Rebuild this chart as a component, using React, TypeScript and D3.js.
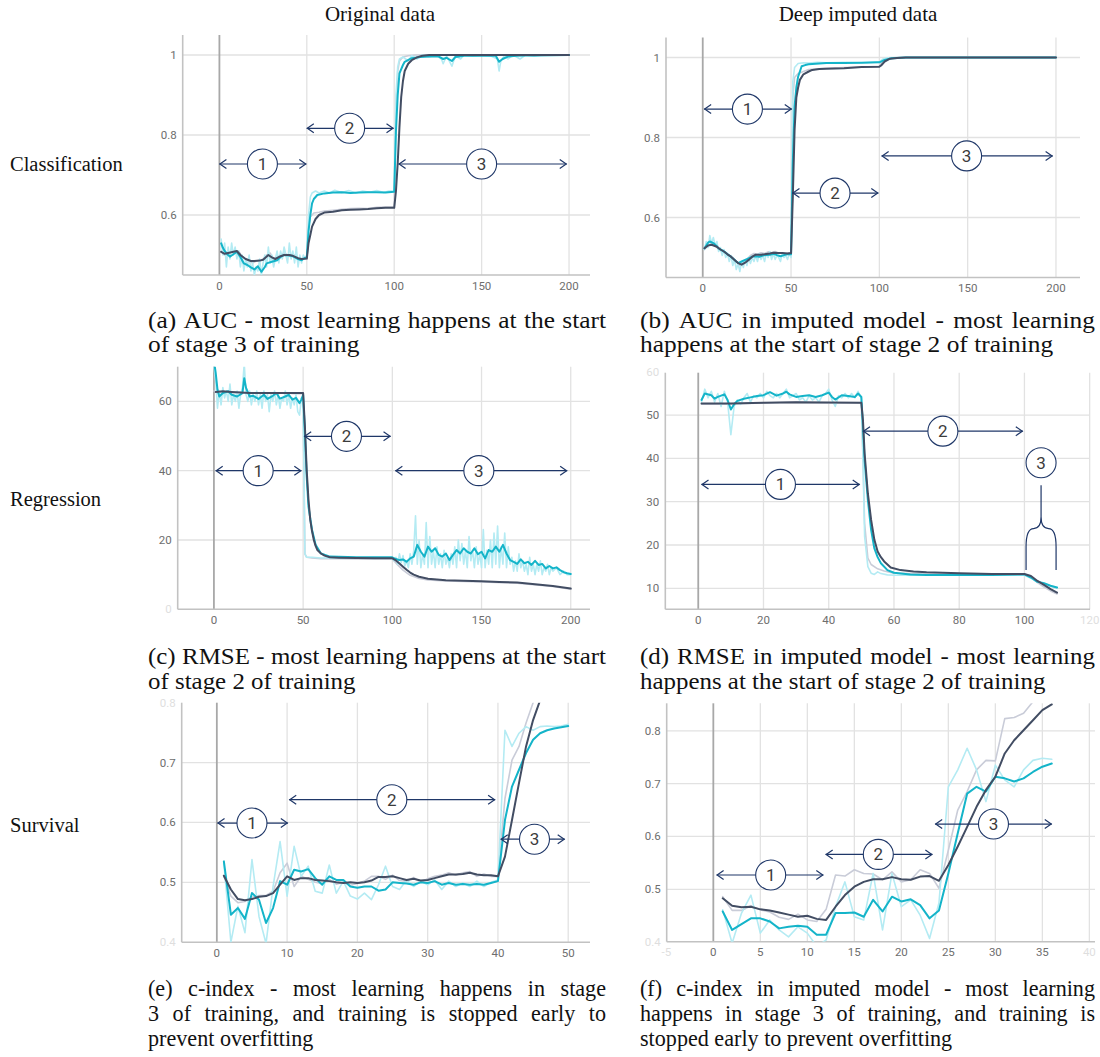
import * as d3 from 'd3'

type Pt = [number, number]

// ---------- (a) AUC, original data ----------
const aucOrigGrayRaw: Pt[] = [[1,0.51],[3,0.5],[5,0.5],[7,0.51],[9,0.505],[11,0.51],[13,0.495],[15,0.49],[17,0.485],[19,0.48],[21,0.485],[23,0.485],[25,0.49],[27,0.5],[29,0.505],[31,0.49],[33,0.495],[35,0.5],[37,0.505],[39,0.5],[41,0.495],[43,0.5],[45,0.49],[47,0.49],[49,0.49],[50,0.49],[51,0.57],[52,0.595],[54,0.605],[57,0.607],[60,0.61],[65,0.612],[70,0.614],[75,0.616],[80,0.617],[85,0.616],[90,0.619],[95,0.62],[100,0.62],[101,0.85],[102,0.96],[103,0.985],[105,0.995],[108,0.998],[112,1],[200,1]]
const aucOrigCyanRaw: Pt[] = [[1,0.54],[2,0.5],[3,0.53],[4,0.47],[5,0.52],[6,0.49],[7,0.53],[8,0.5],[9,0.52],[10,0.49],[11,0.51],[12,0.47],[13,0.5],[14,0.46],[15,0.49],[16,0.47],[17,0.5],[18,0.46],[19,0.48],[20,0.45],[21,0.47],[22,0.46],[23,0.49],[24,0.45],[25,0.48],[26,0.5],[27,0.47],[28,0.52],[29,0.48],[30,0.5],[31,0.47],[32,0.49],[33,0.51],[34,0.48],[35,0.51],[36,0.49],[37,0.52],[38,0.5],[39,0.48],[40,0.53],[41,0.49],[42,0.51],[43,0.48],[44,0.52],[45,0.47],[46,0.5],[47,0.48],[48,0.5],[49,0.49],[50,0.5],[51,0.6],[52,0.645],[53,0.655],[55,0.66],[57,0.655],[60,0.66],[63,0.655],[66,0.662],[70,0.656],[74,0.661],[78,0.655],[82,0.66],[86,0.657],[90,0.661],[94,0.656],[97,0.66],[100,0.66],[101,0.9],[102,0.97],[103,0.99],[105,0.995],[108,0.985],[110,0.998],[113,0.99],[116,1],[120,0.995],[124,1],[127,0.99],[128,0.978],[130,0.998],[133,0.972],[135,0.998],[138,0.99],[140,1],[145,0.997],[150,1],[155,0.998],[159,0.99],[160,0.96],[161,0.985],[163,0.998],[165,0.99],[168,1],[172,0.99],[175,1],[180,0.997],[185,1],[200,1]]
const aucOrigCyan: Pt[] = [[1,0.529],[2,0.518],[3,0.51],[5,0.5],[6,0.496],[8,0.502],[10,0.508],[12,0.495],[14,0.479],[16,0.475],[18,0.469],[20,0.464],[22,0.472],[24,0.458],[26,0.47],[27,0.479],[30,0.483],[33,0.487],[35,0.495],[37,0.5],[40,0.499],[42,0.497],[45,0.49],[47,0.487],[49,0.493],[50,0.494],[51,0.56],[52,0.6],[53,0.629],[54,0.64],[56,0.65],[60,0.654],[65,0.656],[70,0.657],[75,0.655],[80,0.656],[85,0.657],[90,0.657],[95,0.656],[100,0.658],[101,0.81],[102,0.9],[103,0.954],[105,0.975],[106,0.983],[110,0.992],[115,0.995],[120,0.996],[125,0.997],[128,0.99],[130,0.993],[133,0.985],[135,0.995],[140,0.998],[150,0.998],[158,0.999],[160,0.983],[162,0.99],[165,0.996],[170,0.998],[175,0.999],[180,0.999],[200,1]]
const aucOrigDark: Pt[] = [[1,0.508],[3,0.503],[5,0.505],[8,0.508],[10,0.51],[12,0.5],[15,0.49],[18,0.485],[20,0.485],[23,0.486],[25,0.488],[28,0.5],[30,0.494],[32,0.49],[35,0.497],[37,0.5],[40,0.5],[42,0.498],[45,0.492],[47,0.49],[50,0.491],[51,0.53],[52,0.55],[53,0.571],[55,0.59],[57,0.6],[60,0.606],[65,0.608],[70,0.612],[75,0.613],[80,0.614],[85,0.615],[90,0.617],[95,0.618],[100,0.618],[101,0.66],[102,0.73],[103,0.82],[104,0.895],[105,0.935],[106,0.96],[108,0.978],[110,0.987],[113,0.994],[116,0.998],[120,1],[200,1]]

// ---------- (b) AUC, imputed ----------
const aucImpGrayRaw: Pt[] = [[1,0.52],[3,0.53],[5,0.535],[7,0.53],[9,0.52],[11,0.515],[13,0.51],[15,0.505],[17,0.5],[19,0.49],[21,0.48],[23,0.485],[25,0.495],[27,0.505],[29,0.51],[31,0.508],[33,0.512],[35,0.51],[37,0.514],[39,0.512],[41,0.515],[43,0.51],[45,0.512],[47,0.51],[49,0.512],[50,0.512],[51,0.9],[52,0.95],[54,0.96],[57,0.965],[60,0.97],[70,0.973],[80,0.975],[90,0.976],[100,0.978],[102,0.993],[105,0.998],[110,1],[200,1]]
const aucImpCyanRaw: Pt[] = [[1,0.52],[2,0.54],[3,0.525],[4,0.555],[5,0.535],[6,0.55],[7,0.53],[8,0.54],[9,0.515],[10,0.525],[11,0.505],[12,0.52],[13,0.5],[14,0.51],[15,0.49],[16,0.505],[17,0.48],[18,0.495],[19,0.47],[20,0.485],[21,0.465],[22,0.49],[23,0.475],[24,0.495],[25,0.48],[26,0.5],[27,0.485],[28,0.5],[29,0.49],[30,0.505],[31,0.49],[32,0.51],[33,0.495],[34,0.505],[35,0.49],[36,0.51],[37,0.5],[38,0.515],[39,0.495],[40,0.51],[41,0.495],[42,0.505],[43,0.5],[44,0.49],[45,0.51],[46,0.5],[47,0.505],[48,0.495],[49,0.51],[50,0.5],[51,0.94],[52,0.975],[54,0.985],[57,0.987],[60,0.986],[65,0.988],[70,0.987],[80,0.988],[90,0.987],[100,0.989],[102,0.996],[105,0.999],[110,1],[200,1]]
const aucImpCyan: Pt[] = [[1,0.523],[3,0.537],[4,0.54],[6,0.536],[8,0.528],[9,0.523],[11,0.518],[13,0.512],[15,0.505],[17,0.498],[19,0.49],[20,0.486],[22,0.49],[25,0.496],[28,0.502],[30,0.503],[32,0.502],[34,0.505],[36,0.506],[38,0.507],[40,0.509],[42,0.506],[44,0.503],[46,0.506],[48,0.508],[50,0.508],[51,0.736],[52,0.878],[53,0.925],[54,0.952],[56,0.978],[58,0.981],[60,0.983],[70,0.986],[80,0.986],[90,0.987],[100,0.988],[103,0.994],[107,0.998],[110,0.999],[115,1],[200,1]]
const aucImpDark: Pt[] = [[1,0.523],[3,0.53],[5,0.532],[8,0.527],[10,0.52],[12,0.515],[14,0.508],[16,0.502],[18,0.494],[20,0.486],[22,0.482],[24,0.487],[26,0.494],[28,0.502],[30,0.507],[33,0.507],[35,0.508],[38,0.51],[40,0.512],[43,0.511],[45,0.511],[48,0.51],[50,0.511],[51,0.652],[52,0.819],[53,0.9],[54,0.925],[55,0.944],[57,0.958],[60,0.965],[62,0.969],[66,0.971],[70,0.972],[80,0.973],[90,0.976],[100,0.977],[101,0.98],[103,0.99],[106,0.997],[110,0.999],[115,1],[200,1]]

// ---------- (c) RMSE, original data ----------
const regOrigGrayRaw: Pt[] = [[0,63],[2,62.5],[5,62.8],[10,62.5],[15,62.6],[20,62.3],[25,62.5],[30,62.4],[35,62.3],[40,62.4],[45,62.2],[50,62.3],[51,16],[52,15],[55,14.8],[60,14.6],[70,14.6],[80,14.5],[90,14.6],[100,14.5],[103,12.8],[106,11.3],[110,9.8],[115,8.9],[120,8.5],[130,8.2],[150,7.9],[170,7.5],[190,6.6],[200,5.8]]
const regOrigCyanRaw: Pt[] = [[0,70],[1,66],[2,58],[3,63],[4,59],[5,64],[6,61],[7,63],[8,60],[9,65],[10,59],[11,62],[12,60],[13,63],[14,58],[15,62],[16,64],[17,71],[18,62],[19,60],[20,63],[21,59],[22,62],[23,60],[24,63],[25,59],[26,62],[27,58],[28,63],[29,60],[30,62],[31,57],[32,62],[33,60],[34,63],[35,59],[36,62],[37,58],[38,61],[39,60],[40,63],[41,59],[42,62],[43,58],[44,61],[45,59],[46,62],[47,57],[48,56],[49,61],[50,60],[51,16],[52,15],[55,15],[60,14.8],[70,14.9],[80,14.8],[90,14.9],[100,14.8],[101,14],[102,15],[103,13],[104,16],[105,13.5],[106,15.5],[107,12.5],[108,14],[109,12],[110,16],[111,13],[112,17],[113,27],[114,13],[115,20],[116,12],[117,16],[118,13],[119,25],[120,12],[121,21],[122,13],[123,17],[124,12],[125,18],[126,13],[127,16],[128,12],[129,17],[130,13],[131,15],[132,12],[133,16],[134,13],[135,18],[136,12],[137,20],[138,14],[139,19],[140,13],[141,17],[142,12],[143,21],[144,14],[145,17],[146,12],[147,18],[148,13],[149,16],[150,12],[151,23],[152,12],[153,17],[154,13],[155,20],[156,12],[157,22],[158,13],[159,24],[160,12],[161,18],[162,13],[163,22],[164,12],[165,18],[166,13],[167,15],[168,11],[169,14],[170,11],[171,16],[172,12],[173,14],[174,11],[175,13],[176,10],[177,15],[178,11],[179,13],[180,10],[181,13],[182,11],[183,14],[184,10],[185,12],[186,11],[187,13],[188,10],[189,12],[190,11],[192,12],[194,10],[196,11],[198,10],[200,10]]
const regOrigCyan: Pt[] = [[0.5,70],[1,68.2],[2,63.4],[3,61.4],[5,62.4],[8,62.9],[10,61.9],[13,61.4],[16,62.4],[17,66.7],[18,63.9],[20,61.4],[22,61.6],[25,60.7],[28,61.9],[30,60.7],[33,61.6],[35,62.4],[37,60.8],[40,61.4],[42,61.9],[44,60.5],[46,61],[48,59.5],[49,60.5],[50,61.9],[51,50.8],[52,38.3],[53,29.6],[55,22.9],[57,18.6],[60,16.1],[65,15.2],[80,15],[100,15],[102,14.5],[104,14.2],[106,14.4],[108,13.7],[110,14.7],[112,15.2],[114,18.6],[116,16.6],[118,15.2],[120,18.1],[122,16.6],[124,17.6],[126,15.7],[128,15.2],[130,16.1],[132,14.2],[134,15.7],[136,17.1],[138,16.1],[140,17.6],[142,16.6],[144,16.1],[146,17.6],[148,15.9],[150,16.6],[152,14.7],[154,17.1],[156,16.6],[158,18.1],[160,16.6],[162,18.6],[164,16.1],[166,14.2],[168,13.7],[170,13.1],[172,14.4],[174,13.3],[176,13.7],[178,12.8],[180,14],[182,12.8],[184,13.1],[186,11.8],[188,12.5],[190,11.8],[192,12.1],[194,11.3],[196,10.7],[198,10.4],[200,10.2]]
const regOrigDark: Pt[] = [[1,62.7],[5,62.9],[10,62.7],[20,62.4],[30,62.4],[40,62.4],[50,62.4],[51,52.8],[52,40.2],[53,31.6],[54,25.8],[55,22.5],[56,20],[57,18.3],[58,17.1],[60,16.1],[62,15.5],[65,15],[70,14.9],[80,14.8],[90,14.7],[100,14.7],[102,14.1],[104,13.2],[106,12.3],[108,11.4],[110,10.6],[112,10],[115,9.4],[120,8.8],[125,8.6],[130,8.4],[140,8.25],[150,8.1],[160,7.9],[170,7.7],[180,7.2],[190,6.7],[200,6]]

// ---------- (d) RMSE, imputed ----------
const regImpGrayRaw: Pt[] = [[1,52.5],[10,52.6],[20,52.8],[30,53],[40,52.8],[50,52.8],[50.5,40],[51,25],[52,17],[53,15.5],[55,14.5],[57,14],[60,13.5],[70,13.3],[80,13.2],[90,13.2],[100,13.2],[102,12.5],[104,11.3],[106,10.3],[108,9.4],[110,8.7]]
const regImpCyanRaw: Pt[] = [[1,53],[2,56],[3,54],[4,55.5],[5,53],[6,55],[7,52],[8,55.5],[9,53],[10,45.5],[11,52],[12,53.5],[13,52.5],[14,54],[15,55],[16,53],[17,54.5],[18,54],[19,55],[20,54],[21,55.5],[22,54.5],[23,54],[24,55],[25,54],[26,55],[27,56],[28,54],[29,54.5],[30,55],[31,53.5],[32,54],[33,53],[34,54.5],[35,53.5],[36,54],[37,53],[38,54.5],[39,55],[40,56],[41,53.5],[42,52],[43,54.5],[44,54],[45,55],[46,54],[47,55],[48,54],[49,55.5],[50,54],[50.5,40],[51,22],[52,15],[53,13.5],[54,13.2],[55,13.8],[56,13.4],[58,13.1],[60,13],[70,13],[80,13],[90,13],[100,13],[102,12.3],[104,11.5],[106,11],[108,10.5],[110,10]]
const regImpCyan: Pt[] = [[1,53.5],[2,55],[4,54.6],[5,53.8],[6,54.2],[8,54.8],[9,53.5],[10,51.3],[11,52.5],[12,53.3],[14,53.8],[16,54.1],[18,54.4],[20,54.6],[22,55.3],[24,54.5],[26,55],[27,55.4],[28,54.8],[30,54.2],[32,54.4],[34,54.6],[36,54.2],[38,54.6],[40,55.2],[41,54.2],[42,53.6],[44,54.6],[46,54.4],[48,54.2],[49,55],[50,54.2],[50.5,47.3],[51,39.6],[52,30.4],[53,23.5],[54,19.2],[55,17.2],[56,15.8],[58,14.2],[60,13.6],[65,13.2],[70,13.1],[80,13.1],[90,13.1],[100,13.2],[102,12.5],[104,11.5],[106,11.2],[108,10.6],[110,10.2]]
const regImpDark: Pt[] = [[1,52.7],[10,52.7],[20,52.85],[30,53],[40,52.9],[50,52.85],[50.5,48.8],[51,41.2],[52,31.9],[53,25.8],[54,21.2],[55,18.5],[56,17.2],[57,16.2],[59,14.8],[62,14.2],[66,13.9],[70,13.7],[80,13.5],[90,13.3],[100,13.3],[102,12.85],[104,11.7],[106,10.8],[108,9.8],[110,9]]

// ---------- (e) c-index, original data ----------
const survOrigGrayRaw: Pt[] = [[1,0.51],[2,0.477],[3,0.466],[4,0.468],[5,0.475],[6,0.478],[7,0.478],[8,0.485],[9,0.516],[10,0.532],[11,0.493],[12,0.51],[13,0.505],[14,0.5],[15,0.498],[16,0.505],[17,0.497],[18,0.5],[19,0.495],[20,0.498],[21,0.502],[22,0.51],[23,0.51],[24,0.505],[25,0.512],[26,0.503],[27,0.502],[28,0.508],[29,0.5],[30,0.506],[31,0.51],[32,0.512],[33,0.516],[34,0.512],[35,0.516],[36,0.518],[37,0.51],[38,0.514],[39,0.51],[40,0.51],[41,0.64],[42,0.704],[43,0.727],[44,0.766],[45,0.8],[46,0.84]]
const survOrigCyanRaw: Pt[] = [[1,0.532],[2,0.4],[3,0.46],[4,0.416],[5,0.538],[6,0.443],[7,0.398],[8,0.493],[9,0.568],[10,0.477],[11,0.56],[12,0.51],[13,0.527],[14,0.485],[15,0.482],[16,0.529],[17,0.482],[18,0.502],[19,0.477],[20,0.472],[21,0.482],[22,0.471],[23,0.496],[24,0.527],[25,0.493],[26,0.488],[27,0.504],[28,0.493],[29,0.502],[30,0.496],[31,0.504],[32,0.488],[33,0.502],[34,0.493],[35,0.499],[36,0.493],[37,0.502],[38,0.493],[39,0.5],[40,0.504],[41,0.754],[42,0.727],[43,0.749],[44,0.76],[45,0.754],[46,0.76],[47,0.761],[48,0.76],[49,0.761],[50,0.764]]
const survOrigCyan: Pt[] = [[1,0.535],[2,0.446],[3,0.457],[4,0.439],[5,0.482],[6,0.471],[7,0.432],[8,0.457],[9,0.502],[10,0.496],[11,0.521],[12,0.518],[13,0.522],[14,0.507],[15,0.496],[16,0.51],[17,0.504],[18,0.504],[19,0.493],[20,0.491],[21,0.493],[22,0.493],[23,0.486],[24,0.488],[25,0.5],[26,0.499],[27,0.498],[28,0.496],[29,0.5],[30,0.499],[31,0.502],[32,0.496],[33,0.499],[34,0.496],[35,0.497],[36,0.496],[37,0.497],[38,0.496],[39,0.499],[40,0.502],[41,0.604],[42,0.66],[43,0.688],[44,0.716],[45,0.738],[46,0.749],[47,0.754],[48,0.757],[49,0.759],[50,0.761]]
const survOrigDark: Pt[] = [[1,0.511],[2,0.488],[3,0.472],[4,0.47],[5,0.472],[6,0.476],[7,0.477],[8,0.482],[9,0.496],[10,0.51],[11,0.504],[12,0.507],[13,0.507],[14,0.504],[15,0.503],[16,0.502],[17,0.5],[18,0.499],[19,0.5],[20,0.499],[21,0.5],[22,0.503],[23,0.509],[24,0.509],[25,0.51],[26,0.507],[27,0.504],[28,0.506],[29,0.503],[30,0.504],[31,0.507],[32,0.51],[33,0.513],[34,0.513],[35,0.514],[36,0.516],[37,0.513],[38,0.512],[39,0.512],[40,0.51],[41,0.543],[42,0.604],[43,0.666],[44,0.727],[45,0.771],[46,0.804],[47,0.84]]

// ---------- (f) c-index, imputed ----------
const survImpGrayRaw: Pt[] = [[1,0.486],[2,0.46],[3,0.46],[4,0.469],[5,0.461],[6,0.457],[7,0.447],[8,0.443],[9,0.453],[10,0.442],[11,0.439],[12,0.462],[13,0.527],[14,0.525],[15,0.537],[16,0.53],[17,0.529],[18,0.518],[19,0.533],[20,0.514],[21,0.518],[22,0.537],[23,0.53],[24,0.502],[25,0.574],[26,0.65],[27,0.685],[28,0.726],[29,0.744],[30,0.743],[31,0.823],[32,0.825],[33,0.833],[34,0.855],[35,0.87],[36,0.88]]
const survImpCyanRaw: Pt[] = [[1,0.461],[2,0.398],[3,0.455],[4,0.489],[5,0.417],[6,0.442],[7,0.423],[8,0.41],[9,0.429],[10,0.417],[11,0.392],[12,0.404],[13,0.467],[14,0.514],[15,0.448],[16,0.442],[17,0.53],[18,0.423],[19,0.53],[20,0.467],[21,0.48],[22,0.451],[23,0.407],[24,0.474],[25,0.694],[26,0.726],[27,0.767],[28,0.726],[29,0.666],[30,0.735],[31,0.707],[32,0.694],[33,0.726],[34,0.744],[35,0.748],[36,0.746]]
const survImpCyan: Pt[] = [[1,0.458],[2,0.423],[3,0.434],[4,0.445],[5,0.445],[6,0.439],[7,0.426],[8,0.429],[9,0.431],[10,0.429],[11,0.414],[12,0.414],[13,0.455],[14,0.455],[15,0.456],[16,0.448],[17,0.48],[18,0.458],[19,0.486],[20,0.477],[21,0.481],[22,0.47],[23,0.445],[24,0.46],[25,0.53],[26,0.606],[27,0.681],[28,0.694],[29,0.685],[30,0.713],[31,0.71],[32,0.704],[33,0.71],[34,0.722],[35,0.732],[36,0.738]]
const survImpDark: Pt[] = [[1,0.483],[2,0.469],[3,0.466],[4,0.467],[5,0.462],[6,0.46],[7,0.456],[8,0.452],[9,0.448],[10,0.45],[11,0.444],[12,0.442],[13,0.467],[14,0.489],[15,0.505],[16,0.514],[17,0.519],[18,0.519],[19,0.523],[20,0.519],[21,0.518],[22,0.524],[23,0.525],[24,0.516],[25,0.546],[26,0.581],[27,0.618],[28,0.656],[29,0.688],[30,0.713],[31,0.757],[32,0.782],[33,0.801],[34,0.82],[35,0.839],[36,0.85]]

// ticks
const ticks200 = [0, 50, 100, 150, 200]
const ticksAuc = [0.6, 0.8, 1]
const ticksRegOrig = [20, 40, 60]
const ticksRegImpX = [0, 20, 40, 60, 80, 100]
const ticksRegImpY = [10, 20, 30, 40, 50]
const ticksSurvOrigX = [0, 10, 20, 30, 40, 50]
const ticksSurvOrigY = [0.5, 0.6, 0.7]
const ticksSurvImpX = [0, 5, 10, 15, 20, 25, 30, 35]
const ticksSurvImpY = [0.5, 0.6, 0.7, 0.8]

// stage arrows: [from step, to step, level, circle step, label]
type Arrow = [number, number, number, number, string]
const arrowsA: Arrow[] = [[0, 49.7, 0.7275, 24.6, '1'], [50, 99.6, 0.8167, 74.5, '2'], [102.5, 198.7, 0.7275, 150, '3']]
const arrowsB: Arrow[] = [[0.8, 50.4, 0.871, 25.3, '1'], [50.8, 99.4, 0.661, 74.9, '2'], [101.3, 198.1, 0.754, 149.4, '3']]
const arrowsC: Arrow[] = [[1, 49, 40, 24.8, '1'], [50.6, 99, 49.9, 74.3, '2'], [101.7, 198, 40, 148.5, '3']]
const arrowsD: Arrow[] = [[1, 49.5, 34, 25.2, '1'], [50.5, 99.5, 46.3, 75, '2']]
const arrowsE: Arrow[] = [[0.1, 10.1, 0.599, 5, '1'], [10.3, 39.6, 0.638, 24.9, '2'], [40.4, 49.5, 0.572, 45.2, '3']]
const arrowsF: Arrow[] = [[0.35, 11.7, 0.527, 6.1, '1'], [11.95, 23.3, 0.566, 17.55, '2'], [23.6, 36, 0.6235, 29.8, '3']]

const headings = ['Original data', 'Deep imputed data']
const rowLabels = ['Classification', 'Regression', 'Survival']
const captionA = ['(a) AUC - most learning happens at the start', 'of stage 3 of training']
const captionB = ['(b) AUC in imputed model - most learning', 'happens at the start of stage 2 of training']
const captionC = ['(c) RMSE - most learning happens at the start', 'of stage 2 of training']
const captionD = ['(d) RMSE in imputed model - most learning', 'happens at the start of stage 2 of training']
const captionE = ['(e) c-index - most learning happens in stage', '3 of training, and training is stopped early to', 'prevent overfitting']
const captionF = ['(f) c-index in imputed model - most learning', 'happens in stage 3 of training, and training is', 'stopped early to prevent overfitting']

const C = {
  cyan: '#14b4c9',
  cyanRaw: '#b4ebf3',
  dark: '#424d63',
  grayRaw: '#c9ccd8',
  grid: '#e2e2e2',
  zero: '#a8a8a8',
  axis: '#c2c2c2',
  tick: '#6e6e6e',
  note: '#1f3768',
}
const SERIF = '"Liberation Serif", "Times New Roman", serif'
const SANS = 'Roboto, "Liberation Sans", sans-serif'
const CAPTION_SIZE = 23.3

interface PanelSpec {
  id: string
  xDomain: [number, number]
  xRange: [number, number]
  yDomain: [number, number]
  yRange: [number, number]
  xTicks: number[]
  yTicks: number[]
  fadedX: number[]
  fadedY: number[]
  grayRaw: Pt[]
  cyanRaw: Pt[]
  cyan: Pt[]
  dark: Pt[]
  arrows: Arrow[]
  circles?: [number, number, string][]
  brace?: { x1: number; x2: number; bottom: number; knee: number; shoulder: number; neck: number; tip: number }
}

const panels: PanelSpec[] = [
  { id: 'a', xDomain: [-21, 212], xRange: [182.7, 590], yDomain: [0.45, 1.05], yRange: [275, 35], xTicks: ticks200, yTicks: ticksAuc, fadedX: [], fadedY: [],
    grayRaw: aucOrigGrayRaw, cyanRaw: aucOrigCyanRaw, cyan: aucOrigCyan, dark: aucOrigDark, arrows: arrowsA },
  { id: 'b', xDomain: [-20.8, 213.6], xRange: [666, 1080], yDomain: [0.45, 1.05], yRange: [277.5, 37.5], xTicks: ticks200, yTicks: ticksAuc, fadedX: [], fadedY: [],
    grayRaw: aucImpGrayRaw, cyanRaw: aucImpCyanRaw, cyan: aucImpCyan, dark: aucImpDark, arrows: arrowsB },
  { id: 'c', xDomain: [-20.3, 210.8], xRange: [177.7, 590], yDomain: [0, 70], yRange: [609.3, 366.7], xTicks: ticks200, yTicks: ticksRegOrig, fadedX: [], fadedY: [0],
    grayRaw: regOrigGrayRaw, cyanRaw: regOrigCyanRaw, cyan: regOrigCyan, dark: regOrigDark, arrows: arrowsC },
  { id: 'd', xDomain: [-10.1, 120.1], xRange: [665.3, 1090], yDomain: [5.15, 59.8], yRange: [609.3, 372.7], xTicks: ticksRegImpX, yTicks: ticksRegImpY, fadedX: [120], fadedY: [60],
    grayRaw: regImpGrayRaw, cyanRaw: regImpCyanRaw, cyan: regImpCyan, dark: regImpDark, arrows: arrowsD,
    circles: [[105.1, 39, '3']],
    brace: { x1: 100.5, x2: 109.7, bottom: 14.2, knee: 19.6, shoulder: 23.8, neck: 26.5, tip: 33.8 } },
  { id: 'e', xDomain: [-5, 53.1], xRange: [181.7, 590], yDomain: [0.4, 0.8], yRange: [942.2, 702.7], xTicks: ticksSurvOrigX, yTicks: ticksSurvOrigY, fadedX: [], fadedY: [0.4, 0.8],
    grayRaw: survOrigGrayRaw, cyanRaw: survOrigCyanRaw, cyan: survOrigCyan, dark: survOrigDark, arrows: arrowsE },
  { id: 'f', xDomain: [-4.96, 40.6], xRange: [666.7, 1095], yDomain: [0.4008, 0.852], yRange: [941.7, 703.3], xTicks: ticksSurvImpX, yTicks: ticksSurvImpY, fadedX: [-5, 40], fadedY: [0.4],
    grayRaw: survImpGrayRaw, cyanRaw: survImpCyanRaw, cyan: survImpCyan, dark: survImpDark, arrows: arrowsF },
]

function Badge({ cx, cy, label }: { cx: number; cy: number; label: string }) {
  return (
    <g>
      <circle cx={cx} cy={cy} r={15} fill="#fff" stroke={C.note} strokeWidth={1.1} />
      <text x={cx} y={cy + 6} textAnchor="middle" fontFamily={SANS} fontSize={17} fill="#3c3c3c">
        {label}
      </text>
    </g>
  )
}

function Panel({ spec }: { spec: PanelSpec }) {
  const x = d3.scaleLinear().domain(spec.xDomain).range(spec.xRange)
  const y = d3.scaleLinear().domain(spec.yDomain).range(spec.yRange)
  const line = d3.line<Pt>().x((d) => x(d[0])).y((d) => y(d[1]))
  const [left, right] = spec.xRange
  const [bottom, top] = spec.yRange
  const clipId = `clip-${spec.id}`

  let bracePath = ''
  if (spec.brace) {
    const b = spec.brace
    const L = x(b.x1)
    const R = x(b.x2)
    const M = (L + R) / 2
    bracePath =
      `M${L},${y(b.bottom)} L${L},${y(b.knee)} Q${L},${y(b.shoulder)} ${(L + M) / 2},${y(b.shoulder)} ` +
      `Q${M},${y(b.shoulder)} ${M},${y(b.neck)} L${M},${y(b.tip)} ` +
      `M${R},${y(b.bottom)} L${R},${y(b.knee)} Q${R},${y(b.shoulder)} ${(R + M) / 2},${y(b.shoulder)} ` +
      `Q${M},${y(b.shoulder)} ${M},${y(b.neck)}`
  }

  return (
    <g>
      <defs>
        <clipPath id={clipId}>
          <rect x={left} y={top} width={right - left} height={bottom - top} />
        </clipPath>
      </defs>
      {/* grid */}
      {spec.yTicks.map((t) => (
        <line key={`gy${t}`} x1={left} x2={right} y1={y(t)} y2={y(t)} stroke={C.grid} strokeWidth={1.3} />
      ))}
      {spec.xTicks.concat(spec.fadedX.filter((t) => x(t) > left + 2 && x(t) < right)).map((t) => (
        <line key={`gx${t}`} x1={x(t)} x2={x(t)} y1={top} y2={bottom} stroke={t === 0 ? C.zero : C.grid} strokeWidth={t === 0 ? 1.8 : 1.3} />
      ))}
      <line x1={left} x2={left} y1={top} y2={bottom} stroke={C.axis} strokeWidth={1.6} />
      <line x1={left} x2={right} y1={bottom} y2={bottom} stroke={C.axis} strokeWidth={1.6} />

      {/* tick labels */}
      {spec.yTicks.map((t) => (
        <text key={`ly${t}`} x={left - 6} y={y(t) + 4} textAnchor="end" fontFamily={SANS} fontSize={11.5} fill={C.tick}>
          {String(t)}
        </text>
      ))}
      {spec.fadedY.map((t) => (
        <text key={`fy${t}`} x={left - 6} y={y(t) + 4} textAnchor="end" fontFamily={SANS} fontSize={11.5} fill={C.tick} opacity={0.22}>
          {String(t)}
        </text>
      ))}
      {spec.xTicks.map((t) => (
        <text key={`lx${t}`} x={x(t)} y={bottom + 14.5} textAnchor="middle" fontFamily={SANS} fontSize={11.5} fill={C.tick}>
          {String(t)}
        </text>
      ))}
      {spec.fadedX.map((t) => (
        <text key={`fx${t}`} x={x(t)} y={bottom + 14.5} textAnchor="middle" fontFamily={SANS} fontSize={11.5} fill={C.tick} opacity={0.22}>
          {String(t)}
        </text>
      ))}

      {/* series */}
      <g clipPath={`url(#${clipId})`} fill="none" strokeLinejoin="round" strokeLinecap="round">
        <path d={line(spec.grayRaw) ?? ''} stroke={C.grayRaw} strokeWidth={1.6} />
        <path d={line(spec.cyanRaw) ?? ''} stroke={C.cyanRaw} strokeWidth={1.6} />
        <path d={line(spec.cyan) ?? ''} stroke={C.cyan} strokeWidth={2} />
        <path d={line(spec.dark) ?? ''} stroke={C.dark} strokeWidth={2} />
      </g>

      {/* stage annotations */}
      {spec.arrows.map(([a, b, lv, c, label]) => {
        const x1 = x(a)
        const x2 = x(b)
        const yy = y(lv)
        return (
          <g key={label}>
            <line x1={x1} x2={x2} y1={yy} y2={yy} stroke={C.note} strokeWidth={1.2} />
            <path d={`M${x1 + 7},${yy - 4.5} L${x1 + 0.5},${yy} L${x1 + 7},${yy + 4.5}`} fill="none" stroke={C.note} strokeWidth={1.2} />
            <path d={`M${x2 - 7},${yy - 4.5} L${x2 - 0.5},${yy} L${x2 - 7},${yy + 4.5}`} fill="none" stroke={C.note} strokeWidth={1.2} />
            <Badge cx={x(c)} cy={yy} label={label} />
          </g>
        )
      })}
      {bracePath && <path d={bracePath} fill="none" stroke={C.note} strokeWidth={1.2} />}
      {(spec.circles ?? []).map(([cx, cy, label]) => (
        <Badge key={`c${label}`} cx={x(cx)} cy={y(cy)} label={label} />
      ))}
    </g>
  )
}

// caption placement: x, first baseline, line gap, width of justified lines, horizontal stretch
const captionLayout: { lines: string[]; x: number; y: number; gap: number; justify: number; sx: number }[] = [
  { lines: captionA, x: 148, y: 328, gap: 24, justify: 458, sx: 1.09 },
  { lines: captionB, x: 640, y: 328, gap: 24, justify: 455, sx: 1.09 },
  { lines: captionC, x: 148, y: 664, gap: 25, justify: 458, sx: 1.07 },
  { lines: captionD, x: 640, y: 664, gap: 25, justify: 455, sx: 1.07 },
  { lines: captionE, x: 148, y: 996, gap: 25, justify: 458, sx: 0.95 },
  { lines: captionF, x: 640, y: 996, gap: 25, justify: 455, sx: 0.95 },
]

let measureCtx: CanvasRenderingContext2D | null = null
function textWidth(s: string): number {
  if (!measureCtx) measureCtx = document.createElement('canvas').getContext('2d')
  if (!measureCtx) return s.length * CAPTION_SIZE * 0.45
  measureCtx.font = `${CAPTION_SIZE}px "Liberation Serif"`
  return measureCtx.measureText(s).width
}

function CaptionLine({ text, y, width, justify }: { text: string; y: number; width: number; justify: boolean }) {
  if (!justify) {
    return (
      <text x={0} y={y} fontFamily={SERIF} fontSize={CAPTION_SIZE} fill="#111">
        {text}
      </text>
    )
  }
  const words = text.split(' ')
  const widths = words.map(textWidth)
  const gap = (width - d3.sum(widths)) / (words.length - 1)
  let cur = 0
  const xs = widths.map((w) => {
    const p = cur
    cur += w + gap
    return p
  })
  return (
    <text y={y} fontFamily={SERIF} fontSize={CAPTION_SIZE} fill="#111">
      {words.map((w, i) => (
        <tspan key={i} x={xs[i]}>
          {w}
        </tspan>
      ))}
    </text>
  )
}

export default function App() {
  return (
    <svg width={1100} height={1057} style={{ position: 'absolute', left: 0, top: 0, background: '#fff' }}>
      <rect width={1100} height={1057} fill="#fff" />
      <text x={380} y={21} textAnchor="middle" fontFamily={SERIF} fontSize={21} fill="#111">{headings[0]}</text>
      <text x={858} y={21} textAnchor="middle" fontFamily={SERIF} fontSize={21} fill="#111">{headings[1]}</text>
      <text x={10} y={171} fontFamily={SERIF} fontSize={20.5} fill="#111">{rowLabels[0]}</text>
      <text x={10} y={506} fontFamily={SERIF} fontSize={20.5} fill="#111">{rowLabels[1]}</text>
      <text x={10} y={832} fontFamily={SERIF} fontSize={20.5} fill="#111">{rowLabels[2]}</text>

      {panels.map((p) => (
        <Panel key={p.id} spec={p} />
      ))}

      {captionLayout.map((c, i) => (
        <g key={i} transform={`translate(${c.x},0) scale(${c.sx},1)`}>
          {c.lines.map((ln, j) => (
            <CaptionLine key={j} text={ln} y={c.y + j * c.gap} width={c.justify / c.sx} justify={j < c.lines.length - 1} />
          ))}
        </g>
      ))}
    </svg>
  )
}
